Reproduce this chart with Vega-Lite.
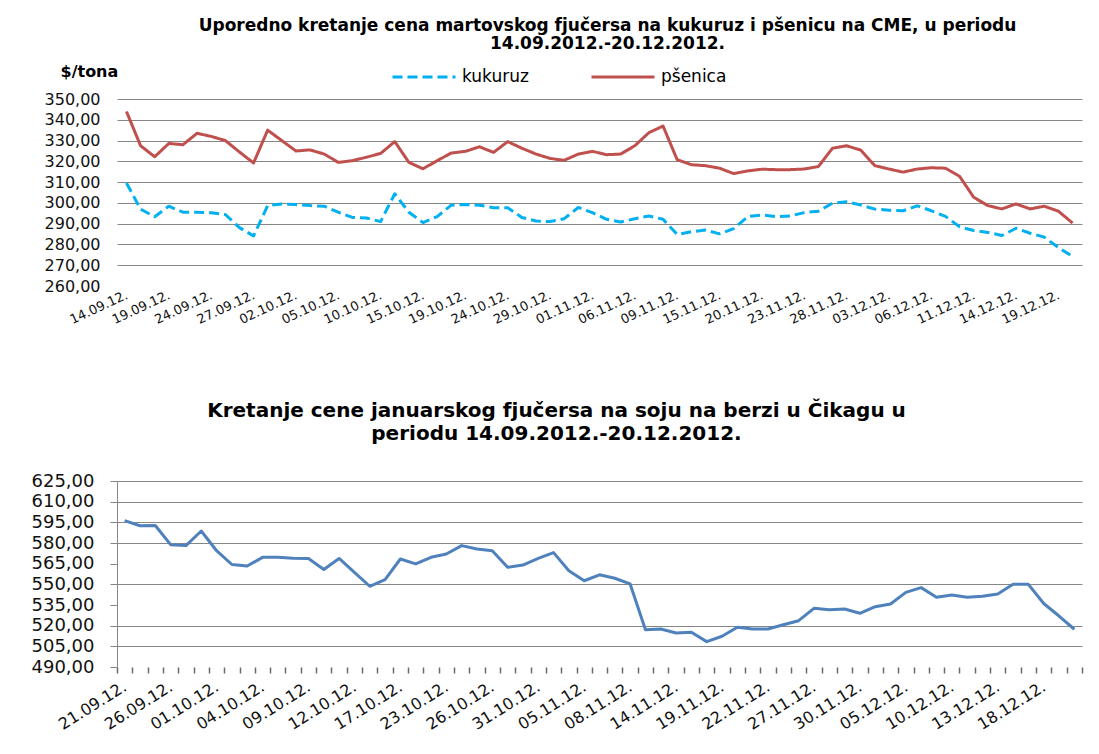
{
  "$schema": "https://vega.github.io/schema/vega-lite/v6.json",
  "background": "white",
  "padding": {"left": 31, "top": 17, "right": 5, "bottom": 5},
  "bounds": "flush",
  "spacing": 195,
  "config": {
    "font": "DejaVu Sans",
    "view": {"stroke": null},
    "axis": {"labelColor": "#111111", "labelFont": "DejaVu Sans", "titleFont": "DejaVu Sans", "titleColor": "#000000"},
    "title": {"font": "DejaVu Sans", "color": "#000000"}
  },
  "datasets": {
    "grain": [
      {"datum": "14.09.12.", "kukuruz": 309.6, "pšenica": 344.0},
      {"datum": "17.09.12.", "kukuruz": 297.0, "pšenica": 327.5},
      {"datum": "18.09.12.", "kukuruz": 293.3, "pšenica": 322.2},
      {"datum": "19.09.12.", "kukuruz": 298.4, "pšenica": 328.6},
      {"datum": "20.09.12.", "kukuruz": 295.5, "pšenica": 328.0},
      {"datum": "21.09.12.", "kukuruz": 295.5, "pšenica": 333.5},
      {"datum": "24.09.12.", "kukuruz": 295.2, "pšenica": 332.0},
      {"datum": "25.09.12.", "kukuruz": 294.4, "pšenica": 330.0},
      {"datum": "26.09.12.", "kukuruz": 288.1, "pšenica": 324.5},
      {"datum": "27.09.12.", "kukuruz": 284.1, "pšenica": 319.2},
      {"datum": "28.09.12.", "kukuruz": 298.7, "pšenica": 335.0},
      {"datum": "01.10.12.", "kukuruz": 299.5, "pšenica": 330.0},
      {"datum": "02.10.12.", "kukuruz": 299.2, "pšenica": 325.0},
      {"datum": "03.10.12.", "kukuruz": 298.7, "pšenica": 325.5},
      {"datum": "04.10.12.", "kukuruz": 298.4, "pšenica": 323.5},
      {"datum": "05.10.12.", "kukuruz": 295.5, "pšenica": 319.5},
      {"datum": "08.10.12.", "kukuruz": 293.0, "pšenica": 320.3},
      {"datum": "09.10.12.", "kukuruz": 292.7, "pšenica": 322.0},
      {"datum": "10.10.12.", "kukuruz": 291.0, "pšenica": 323.8},
      {"datum": "11.10.12.", "kukuruz": 304.4, "pšenica": 329.5},
      {"datum": "12.10.12.", "kukuruz": 295.5, "pšenica": 319.5},
      {"datum": "15.10.12.", "kukuruz": 290.5, "pšenica": 316.4},
      {"datum": "16.10.12.", "kukuruz": 293.4, "pšenica": 320.3},
      {"datum": "17.10.12.", "kukuruz": 298.9, "pšenica": 324.0},
      {"datum": "19.10.12.", "kukuruz": 299.2, "pšenica": 324.8},
      {"datum": "22.10.12.", "kukuruz": 298.9, "pšenica": 327.0},
      {"datum": "23.10.12.", "kukuruz": 297.7, "pšenica": 324.3},
      {"datum": "24.10.12.", "kukuruz": 297.7, "pšenica": 329.5},
      {"datum": "25.10.12.", "kukuruz": 293.0, "pšenica": 326.3},
      {"datum": "26.10.12.", "kukuruz": 291.3, "pšenica": 323.5},
      {"datum": "29.10.12.", "kukuruz": 291.0, "pšenica": 321.4},
      {"datum": "30.10.12.", "kukuruz": 292.4, "pšenica": 320.5},
      {"datum": "31.10.12.", "kukuruz": 297.8, "pšenica": 323.5},
      {"datum": "01.11.12.", "kukuruz": 295.3, "pšenica": 324.8},
      {"datum": "02.11.12.", "kukuruz": 292.1, "pšenica": 323.2},
      {"datum": "05.11.12.", "kukuruz": 290.8, "pšenica": 323.5},
      {"datum": "06.11.12.", "kukuruz": 292.4, "pšenica": 327.5},
      {"datum": "07.11.12.", "kukuruz": 293.7, "pšenica": 333.8},
      {"datum": "08.11.12.", "kukuruz": 292.1, "pšenica": 337.0},
      {"datum": "09.11.12.", "kukuruz": 284.8, "pšenica": 320.8},
      {"datum": "12.11.12.", "kukuruz": 286.1, "pšenica": 318.4},
      {"datum": "13.11.12.", "kukuruz": 286.9, "pšenica": 317.9},
      {"datum": "15.11.12.", "kukuruz": 285.1, "pšenica": 316.7},
      {"datum": "16.11.12.", "kukuruz": 287.6, "pšenica": 314.1},
      {"datum": "19.11.12.", "kukuruz": 293.4, "pšenica": 315.4},
      {"datum": "20.11.12.", "kukuruz": 294.2, "pšenica": 316.2},
      {"datum": "21.11.12.", "kukuruz": 293.4, "pšenica": 316.0},
      {"datum": "22.11.12.", "kukuruz": 293.7, "pšenica": 316.0},
      {"datum": "23.11.12.", "kukuruz": 295.3, "pšenica": 316.3},
      {"datum": "26.11.12.", "kukuruz": 296.0, "pšenica": 317.5},
      {"datum": "27.11.12.", "kukuruz": 299.9, "pšenica": 326.3},
      {"datum": "28.11.12.", "kukuruz": 300.5, "pšenica": 327.5},
      {"datum": "29.11.12.", "kukuruz": 299.0, "pšenica": 325.4},
      {"datum": "30.11.12.", "kukuruz": 297.0, "pšenica": 317.9},
      {"datum": "03.12.12.", "kukuruz": 296.5, "pšenica": 316.3},
      {"datum": "04.12.12.", "kukuruz": 296.2, "pšenica": 314.8},
      {"datum": "05.12.12.", "kukuruz": 298.6, "pšenica": 316.3},
      {"datum": "06.12.12.", "kukuruz": 296.2, "pšenica": 316.9},
      {"datum": "07.12.12.", "kukuruz": 293.5, "pšenica": 316.7},
      {"datum": "10.12.12.", "kukuruz": 288.5, "pšenica": 312.8},
      {"datum": "11.12.12.", "kukuruz": 286.7, "pšenica": 302.7},
      {"datum": "12.12.12.", "kukuruz": 285.8, "pšenica": 298.7},
      {"datum": "13.12.12.", "kukuruz": 284.3, "pšenica": 297.1},
      {"datum": "14.12.12.", "kukuruz": 287.8, "pšenica": 299.5},
      {"datum": "17.12.12.", "kukuruz": 285.4, "pšenica": 297.1},
      {"datum": "18.12.12.", "kukuruz": 283.5, "pšenica": 298.4},
      {"datum": "19.12.12.", "kukuruz": 278.5, "pšenica": 296.0},
      {"datum": "20.12.12.", "kukuruz": 274.2, "pšenica": 290.3}
    ],
    "soja": [
      {"datum": "21.09.12.", "cena": 596.2},
      {"datum": "24.09.12.", "cena": 592.5},
      {"datum": "25.09.12.", "cena": 592.7},
      {"datum": "26.09.12.", "cena": 578.8},
      {"datum": "27.09.12.", "cena": 578.1},
      {"datum": "28.09.12.", "cena": 588.7},
      {"datum": "01.10.12.", "cena": 574.4},
      {"datum": "02.10.12.", "cena": 564.4},
      {"datum": "03.10.12.", "cena": 563.3},
      {"datum": "04.10.12.", "cena": 569.6},
      {"datum": "05.10.12.", "cena": 569.6},
      {"datum": "08.10.12.", "cena": 568.9},
      {"datum": "09.10.12.", "cena": 568.7},
      {"datum": "10.10.12.", "cena": 560.8},
      {"datum": "11.10.12.", "cena": 568.8},
      {"datum": "12.10.12.", "cena": 558.7},
      {"datum": "15.10.12.", "cena": 548.6},
      {"datum": "16.10.12.", "cena": 553.4},
      {"datum": "17.10.12.", "cena": 568.4},
      {"datum": "19.10.12.", "cena": 564.8},
      {"datum": "22.10.12.", "cena": 569.6},
      {"datum": "23.10.12.", "cena": 572.0},
      {"datum": "24.10.12.", "cena": 578.1},
      {"datum": "25.10.12.", "cena": 575.7},
      {"datum": "26.10.12.", "cena": 574.4},
      {"datum": "29.10.12.", "cena": 562.4},
      {"datum": "30.10.12.", "cena": 564.0},
      {"datum": "31.10.12.", "cena": 568.9},
      {"datum": "01.11.12.", "cena": 573.0},
      {"datum": "02.11.12.", "cena": 559.9},
      {"datum": "05.11.12.", "cena": 552.6},
      {"datum": "06.11.12.", "cena": 556.9},
      {"datum": "07.11.12.", "cena": 554.4},
      {"datum": "08.11.12.", "cena": 550.3},
      {"datum": "12.11.12.", "cena": 517.1},
      {"datum": "13.11.12.", "cena": 517.6},
      {"datum": "14.11.12.", "cena": 514.7},
      {"datum": "15.11.12.", "cena": 515.2},
      {"datum": "16.11.12.", "cena": 508.4},
      {"datum": "19.11.12.", "cena": 512.3},
      {"datum": "20.11.12.", "cena": 518.8},
      {"datum": "21.11.12.", "cena": 517.6},
      {"datum": "22.11.12.", "cena": 517.6},
      {"datum": "23.11.12.", "cena": 520.7},
      {"datum": "26.11.12.", "cena": 523.6},
      {"datum": "27.11.12.", "cena": 532.6},
      {"datum": "28.11.12.", "cena": 531.6},
      {"datum": "29.11.12.", "cena": 532.1},
      {"datum": "30.11.12.", "cena": 529.0},
      {"datum": "03.12.12.", "cena": 533.8},
      {"datum": "04.12.12.", "cena": 535.7},
      {"datum": "05.12.12.", "cena": 544.2},
      {"datum": "06.12.12.", "cena": 547.6},
      {"datum": "07.12.12.", "cena": 540.6},
      {"datum": "10.12.12.", "cena": 542.3},
      {"datum": "11.12.12.", "cena": 540.6},
      {"datum": "12.12.12.", "cena": 541.3},
      {"datum": "13.12.12.", "cena": 543.0},
      {"datum": "14.12.12.", "cena": 550.0},
      {"datum": "17.12.12.", "cena": 550.0},
      {"datum": "18.12.12.", "cena": 536.1},
      {"datum": "19.12.12.", "cena": 527.0},
      {"datum": "20.12.12.", "cena": 517.4}
    ]
  },
  "vconcat": [
    {
      "width": 965,
      "height": 187,
      "title": {
        "text": ["Uporedno kretanje cena martovskog fjučersa na kukuruz i pšenicu na CME, u periodu", "14.09.2012.-20.12.2012."],
        "fontSize": 17,
        "fontWeight": "bold",
        "anchor": "middle",
        "frame": "group",
        "dx": 8,
        "offset": 10,
        "lineHeight": 18
      },
      "data": {"name": "grain"},
      "transform": [{"fold": ["kukuruz", "pšenica"], "as": ["serija", "cena"]}],
      "mark": {"type": "line", "strokeWidth": 3, "strokeCap": "butt", "strokeJoin": "round"},
      "encoding": {
        "x": {
          "field": "datum",
          "type": "ordinal",
          "sort": null,
          "scale": {"type": "point", "padding": 0.67},
          "axis": {
            "values": ["14.09.12.", "19.09.12.", "24.09.12.", "27.09.12.", "02.10.12.", "05.10.12.", "10.10.12.", "15.10.12.", "19.10.12.", "24.10.12.", "29.10.12.", "01.11.12.", "06.11.12.", "09.11.12.", "15.11.12.", "20.11.12.", "23.11.12.", "28.11.12.", "03.12.12.", "06.12.12.", "11.12.12.", "14.12.12.", "19.12.12."],
            "title": null,
            "labelAngle": -25,
            "labelAlign": "right",
            "labelBaseline": "middle",
            "labelPadding": 8,
            "labelFontSize": 13,
            "labelOverlap": false,
            "labelBound": false,
            "ticks": false,
            "domain": false,
            "grid": false
          }
        },
        "y": {
          "field": "cena",
          "type": "quantitative",
          "scale": {"domain": [260, 350], "nice": false, "zero": false},
          "axis": {
            "values": [260, 270, 280, 290, 300, 310, 320, 330, 340, 350],
            "labelExpr": "replace(format(datum.value, '.2f'), '.', ',')",
            "labelFontSize": 16,
            "labelPadding": 17,
            "ticks": false,
            "domain": false,
            "grid": true,
            "gridColor": {"condition": {"test": "datum.value == 260", "value": "transparent"}, "value": "#868686"},
            "title": "$/tona",
            "titleAngle": 0,
            "titleAlign": "left",
            "titleBaseline": "middle",
            "titleX": -57,
            "titleY": -28,
            "titleFontSize": 16,
            "titleFontWeight": "bold"
          }
        },
        "color": {
          "field": "serija",
          "type": "nominal",
          "scale": {"domain": ["kukuruz", "pšenica"], "range": ["#00B0F0", "#C0504D"]},
          "legend": {
            "title": null,
            "orient": "none",
            "legendX": 274,
            "legendY": -55,
            "direction": "horizontal",
            "symbolType": "stroke",
            "symbolSize": 3969,
            "symbolStrokeWidth": 3,
            "labelFontSize": 17,
            "labelColor": "#000000",
            "labelOffset": 5,
            "columnPadding": 56,
            "padding": 0,
            "labelLimit": 0
          }
        },
        "strokeDash": {
          "field": "serija",
          "type": "nominal",
          "scale": {"domain": ["kukuruz", "pšenica"], "range": [[10, 5], [1, 0]]},
          "legend": {
            "title": null,
            "orient": "none",
            "legendX": 274,
            "legendY": -55,
            "direction": "horizontal",
            "symbolType": "stroke",
            "symbolSize": 3969,
            "symbolStrokeWidth": 3,
            "labelFontSize": 17,
            "labelColor": "#000000",
            "labelOffset": 5,
            "columnPadding": 56,
            "padding": 0,
            "labelLimit": 0
          }
        }
      }
    },
    {
      "width": 965,
      "height": 186,
      "title": {
        "text": ["Kretanje cene januarskog fjučersa na soju na berzi u Čikagu u", "periodu 14.09.2012.-20.12.2012."],
        "fontSize": 20,
        "fontWeight": "bold",
        "anchor": "middle",
        "frame": "group",
        "dx": -43,
        "offset": 28,
        "lineHeight": 23
      },
      "data": {"name": "soja"},
      "mark": {"type": "line", "color": "#4F81BD", "strokeWidth": 3, "strokeJoin": "round"},
      "encoding": {
        "x": {
          "field": "datum",
          "type": "ordinal",
          "sort": null,
          "bandPosition": 0.5,
          "scale": {"type": "band", "paddingInner": 0, "paddingOuter": 0},
          "axis": {
            "title": null,
            "labelExpr": "round(datum.index * 62) % 3 == 0 ? datum.label : ''",
            "tickBand": "extent",
            "ticks": true,
            "tickSize": 6,
            "tickWidth": 1.5,
            "tickColor": "#6a6a6a",
            "domain": false,
            "grid": false,
            "labelAngle": -32,
            "labelAlign": "right",
            "labelBaseline": "middle",
            "labelPadding": 12,
            "labelFontSize": 16,
            "labelOverlap": false,
            "labelBound": false
          }
        },
        "y": {
          "field": "cena",
          "type": "quantitative",
          "scale": {"domain": [490, 625], "nice": false, "zero": false},
          "axis": {
            "title": null,
            "values": [490, 505, 520, 535, 550, 565, 580, 595, 610, 625],
            "labelExpr": "replace(format(datum.value, '.2f'), '.', ',')",
            "labelFontSize": 18,
            "labelPadding": 16,
            "ticks": true,
            "tickSize": 7,
            "tickColor": "#868686",
            "domain": true,
            "domainColor": "#868686",
            "grid": true,
            "gridColor": {"condition": {"test": "datum.value == 565 || datum.value == 535 || datum.value == 490", "value": "transparent"}, "value": "#868686"}
          }
        }
      }
    }
  ]
}
